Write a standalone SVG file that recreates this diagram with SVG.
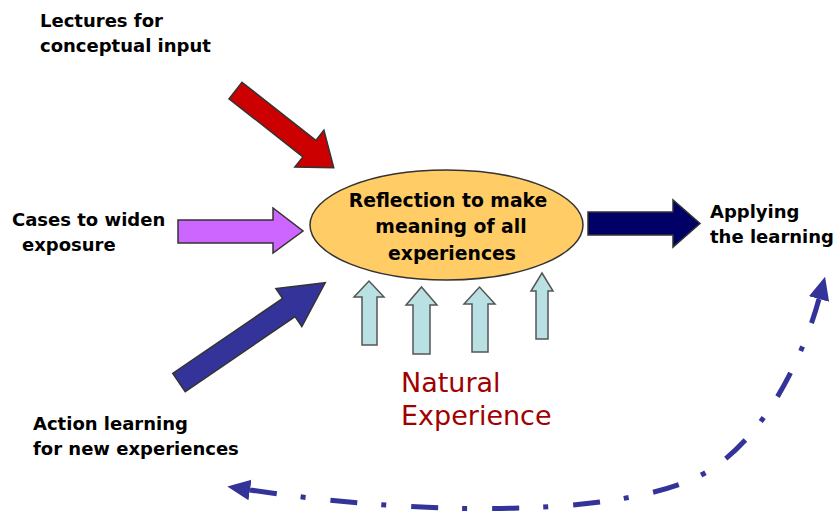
<svg xmlns="http://www.w3.org/2000/svg" width="837" height="515" viewBox="0 0 837 515">
<style>
.lbl{font-family:"DejaVu Sans","Liberation Sans",sans-serif;font-weight:bold;font-size:18px;fill:#000}
.ctr{text-anchor:middle;font-size:18.8px}
.nat{font-family:"DejaVu Sans","Liberation Sans",sans-serif;font-size:27px;fill:#A00000}
.blk{stroke:#333;stroke-width:1.5;stroke-linejoin:miter}
.lb{fill:#B9E1E3;stroke:#555;stroke-width:1.5}
.loop{fill:none;stroke:#333399;stroke-width:5;stroke-dasharray:27 24 5 25}
</style>
<defs>
<marker id="ah" markerUnits="userSpaceOnUse" markerWidth="24" markerHeight="24" viewBox="0 -11 23 22" refX="0" refY="0" orient="auto-start-reverse">
<path d="M0,-10 L22,0 L0,10 z" fill="#333399"/>
</marker>
</defs>
<rect width="837" height="515" fill="#fff"/>
<g id="connectors">
<polygon id="arrow-lectures" class="blk" fill="#CC0000" transform="translate(235.5,90.5) rotate(38.2)" points="0,-10.5 94,-10.5 94,-23.5 125,0 94,23.5 94,10.5 0,10.5"/>
<polygon id="arrow-cases" class="blk" fill="#CC66FF" points="178,220 273,220 273,208 303,231 273,253 273,243 178,243"/>
<polygon id="arrow-action" class="blk" fill="#333399" transform="translate(179,382.5) rotate(-34.3)" points="0,-11 133,-11 133,-23 177,0 133,23 133,11 0,11"/>
<polygon id="arrow-apply" class="blk" fill="#000066" points="588,212 673,212 673,200 700,223.5 673,247 673,235 588,235"/>
<polygon class="lb" points="362,345 362,297 354,297 369,281 384,297 377,297 377,345"/>
<polygon class="lb" points="413,354 413,305 406,305 421.5,287 437,305 430,305 430,354"/>
<polygon class="lb" points="472,352 472,304 464,304 479.5,287 495,304 488,304 488,352"/>
<polygon class="lb" points="536,339 536,291 531,291 542,273 553,291 548,291 548,339"/>
<path id="loop" class="loop" d="M250,490 C450,520 640,514 710,470 C770,432 805,350 819,299" marker-start="url(#ah)" marker-end="url(#ah)"/>
</g>
<g id="reflection">
<ellipse cx="446.5" cy="225" rx="136.5" ry="55" fill="#FFCC66" stroke="#333" stroke-width="1.5"/>
<text class="lbl ctr" x="448" y="207">Reflection to make</text>
<text class="lbl ctr" x="451" y="233">meaning of all</text>
<text class="lbl ctr" x="452" y="260">experiences</text>
</g>
<g id="lectures">
<text class="lbl" x="40" y="27">Lectures for</text>
<text class="lbl" x="40" y="52">conceptual input</text>
</g>
<g id="cases">
<text class="lbl" x="12" y="226">Cases to widen</text>
<text class="lbl" x="22" y="251">exposure</text>
</g>
<g id="action">
<text class="lbl" x="33" y="430">Action learning</text>
<text class="lbl" x="33" y="455">for new experiences</text>
</g>
<g id="applying">
<text class="lbl" x="710" y="218">Applying</text>
<text class="lbl" x="710" y="243">the learning</text>
</g>
<g id="natural">
<text class="nat" x="401" y="392">Natural</text>
<text class="nat" x="401" y="425">Experience</text>
</g>
</svg>
